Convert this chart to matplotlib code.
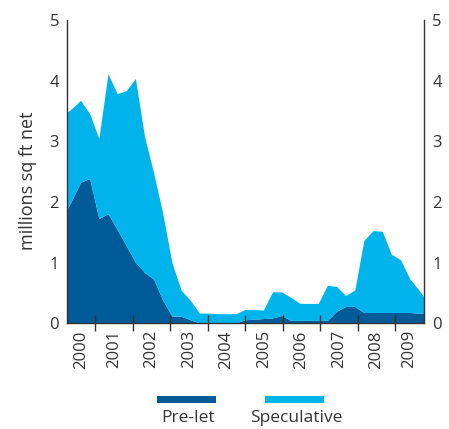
import matplotlib
matplotlib.use("Agg")
import matplotlib.pyplot as plt
from matplotlib.patches import Rectangle
import numpy as np

plt.rcParams['font.family'] = ['Open Sans', 'DejaVu Sans']

# quarterly completions, 2000 Q1 .. 2010 Q1 (first and last only partly visible)
quarters = [f"{y} Q{q}" for y in range(2000, 2011) for q in range(1, 5)][:41]
prelet = [1.73, 2.01, 2.32, 2.38, 1.72, 1.80, 1.54, 1.27, 1.00, 0.83,
          0.72, 0.37, 0.11, 0.11, 0.05, 0.00, 0.00, 0.00, 0.00, 0.00,
          0.05, 0.06, 0.07, 0.08, 0.12, 0.04, 0.04, 0.04, 0.04, 0.04,
          0.19, 0.27, 0.27, 0.17, 0.17, 0.17, 0.17, 0.17, 0.17, 0.16,
          0.15]
speculative = [1.68, 1.52, 1.35, 1.07, 1.32, 2.31, 2.24, 2.56, 3.03, 2.24,
               1.75, 1.43, 0.88, 0.43, 0.32, 0.16, 0.16, 0.15, 0.15, 0.15,
               0.17, 0.16, 0.14, 0.43, 0.39, 0.38, 0.28, 0.28, 0.28, 0.58,
               0.41, 0.18, 0.27, 1.19, 1.35, 1.34, 0.96, 0.87, 0.56, 0.38,
               0.19]
years = [str(y) for y in range(2000, 2010)]

dark = '#005b98'
light = '#00b4eb'
ink = '#333333'

x = np.arange(len(quarters))

fig = plt.figure(figsize=(4.49, 4.29), dpi=100)
ax = fig.add_axes([0.150, 0.2464, 0.794, 0.7066])

ax.stackplot(x, prelet, speculative, colors=[dark, light], linewidth=0)

ax.set_xlim(0.5, 39.5)
ax.set_ylim(0, 5)

# year boundaries and labels
bounds = 3.55 + 4.1 * np.arange(9)
edges = np.r_[0.5, bounds, 39.5]
mids = (edges[:-1] + edges[1:]) / 2
ax.set_xticks(bounds)
ax.set_xticklabels([])
ax.set_xticks(mids, minor=True)
ax.set_xticklabels(years, minor=True, rotation=90, fontsize=12, color=ink)
ax.tick_params(axis='x', which='major', direction='inout', length=11,
               width=1, color=ink)
ax.tick_params(axis='x', which='minor', length=0, pad=5)

ax.set_yticks(range(6))
ax.tick_params(axis='y', length=0, labelsize=12, labelcolor=ink,
               left=True, right=True, labelleft=True, labelright=True, pad=6)
ax.set_ylabel('millions sq ft net', fontsize=13, color=ink)
ax.yaxis.set_label_coords(-0.085, 0.47)

for side in ['left', 'right', 'bottom']:
    ax.spines[side].set_color(ink)
    ax.spines[side].set_linewidth(1)
ax.spines['top'].set_visible(False)
ax.set_axisbelow(False)

# legend: colour bar with label underneath
for x0, col, label in [(156.7, dark, 'Pre-let'), (265, light, 'Speculative')]:
    fig.add_artist(Rectangle((x0 / 449, 1 - 403.3 / 429), 59 / 449, 7.3 / 429,
                             transform=fig.transFigure, color=col, lw=0))
    fig.text((x0 + 31) / 449, 1 - 418 / 429, label, ha='center', va='center',
             fontsize=12.5, color=ink)

fig.savefig('out.png', dpi=100)
